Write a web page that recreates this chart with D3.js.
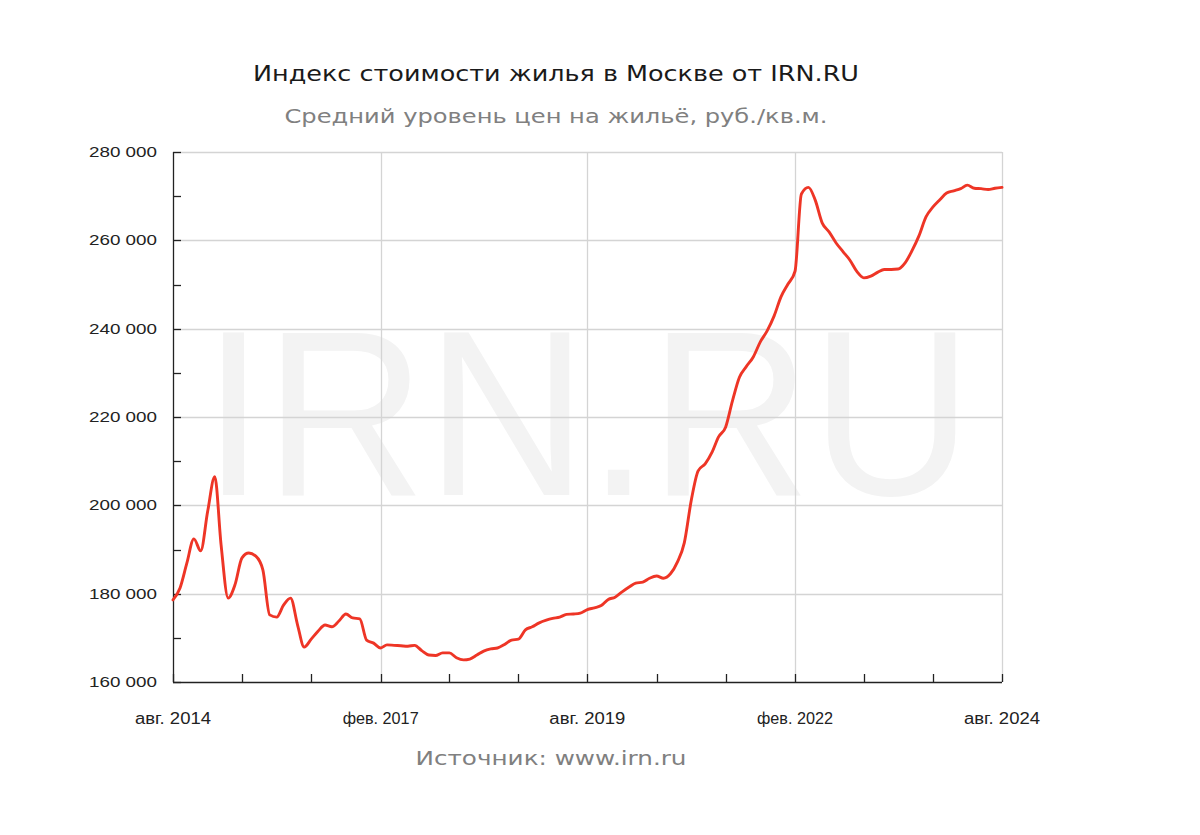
<!DOCTYPE html>
<html>
<head>
<meta charset="utf-8">
<script src="https://cdn.jsdelivr.net/npm/d3@7"></script>
<style>
  html, body { margin: 0; padding: 0; background: #fff; }
  svg { display: block; }
</style>
</head>
<body>
<svg id="chart" width="1200" height="835"></svg>
<script>
// ---- Data ----
const titleText = "Индекс стоимости жилья в Москве от IRN.RU";
const subtitleText = "Средний уровень цен на жильё, руб./кв.м.";
const sourceText = "Источник: www.irn.ru";
const watermarkText = "IRN.RU";

// monthly values, Aug 2014 .. Aug 2024
const startYear = 2014, startMonth = 7; // August (0-based)
const prices = [
  178600, 181300, 186900, 192400, 189700, 198700, 206500, 191000, 179000, 182000,
  188100, 189200, 188500, 185400, 175200, 174700, 177400, 179000, 172900, 167900,
  169700, 171500, 172900, 172500, 173800, 175400, 174500, 174300, 169500, 168800,
  167700, 168400, 168300, 168200, 168100, 168300, 167100, 166100, 166000, 166600,
  166600, 165500, 165000, 165200, 166100, 167000, 167500, 167700, 168500, 169500,
  169700, 171800, 172500, 173400, 174000, 174400, 174700, 175300, 175400, 175600,
  176400, 176800, 177300, 178700, 179200, 180400, 181500, 182400, 182600, 183500,
  184000, 183500, 184500, 187200, 191500, 201200, 207800, 209400, 212100, 215500,
  217700, 223600, 229000, 231400, 233600, 237000, 239500, 242900, 247200, 250100,
  253000, 270500, 272000, 269100, 263900, 261900, 259400, 257400, 255500, 252900,
  251500, 251900, 252800, 253400, 253400, 253500, 254900, 257600, 261000, 265300,
  267500, 269200, 270700, 271200, 271700, 272500, 271800, 271700, 271500, 271800,
  272000
];

const xTickMonths = [0, 10, 20, 30, 40, 50, 60, 70, 80, 90, 100, 110, 120];
const xLabelMonths = [0, 30, 60, 90, 120];
const xLabels = ["авг. 2014", "фев. 2017", "авг. 2019", "фев. 2022", "авг. 2024"];

const yMinorTicks = [170000, 190000, 210000, 230000, 250000, 270000];
const yMajorTicks = [160000, 180000, 200000, 220000, 240000, 260000, 280000];
const yLabels = ["160 000", "180 000", "200 000", "220 000", "240 000", "260 000", "280 000"];

// ---- Layout ----
const L = 173, R = 1002, T = 152, B = 682;
const svg = d3.select("#chart");
const monthDate = i => new Date(startYear, startMonth + i, 1);

const x = d3.scaleTime()
  .domain([monthDate(0), monthDate(120)])
  .range([L, R]);
const y = d3.scaleLinear()
  .domain([160000, 280000])
  .range([B, T]);

// Title texts
svg.append("text")
  .attr("x", 556).attr("y", 81)
  .attr("text-anchor", "middle")
  .attr("font-family", "DejaVu Sans, Verdana, sans-serif")
  .attr("font-size", 21)
  .attr("fill", "#1a1a1a")
  .attr("textLength", 606).attr("lengthAdjust", "spacingAndGlyphs")
  .text(titleText);

svg.append("text")
  .attr("x", 556).attr("y", 123)
  .attr("text-anchor", "middle")
  .attr("font-family", "DejaVu Sans, Verdana, sans-serif")
  .attr("font-size", 19)
  .attr("fill", "#808080")
  .attr("textLength", 543).attr("lengthAdjust", "spacingAndGlyphs")
  .text(subtitleText);

// Watermark
svg.append("text")
  .attr("x", (L + R) / 2).attr("y", 495)
  .attr("text-anchor", "middle")
  .attr("font-family", "Liberation Sans, Arial, sans-serif")
  .attr("font-size", 236)
  .attr("fill", "#f3f3f3")
  .attr("textLength", 770).attr("lengthAdjust", "spacingAndGlyphs")
  .text(watermarkText);

// Grid lines
const grid = svg.append("g").attr("stroke", "#d4d4d4").attr("stroke-width", 1.3);
grid.selectAll("line.h")
  .data(yMajorTicks.slice(1))
  .join("line")
  .attr("x1", L).attr("x2", R)
  .attr("y1", d => Math.round(y(d)) + 0.5)
  .attr("y2", d => Math.round(y(d)) + 0.5);
grid.selectAll("line.v")
  .data(xLabelMonths.slice(1))
  .join("line")
  .attr("y1", T).attr("y2", B)
  .attr("x1", d => Math.round(x(monthDate(d))) + 0.5)
  .attr("x2", d => Math.round(x(monthDate(d))) + 0.5);

// Axes
const axisG = svg.append("g").attr("stroke", "#222").attr("stroke-width", 1.3);
axisG.append("line").attr("x1", L + 0.5).attr("x2", L + 0.5).attr("y1", T).attr("y2", B + 0.5);
axisG.append("line").attr("x1", L).attr("x2", R).attr("y1", B + 0.5).attr("y2", B + 0.5);

// y ticks (inward)
axisG.selectAll("line.yt")
  .data(yMajorTicks.concat(yMinorTicks))
  .join("line")
  .attr("x1", L).attr("x2", L + 8)
  .attr("y1", d => Math.round(y(d)) + 0.5)
  .attr("y2", d => Math.round(y(d)) + 0.5);

// x ticks (inward)
axisG.selectAll("line.xt")
  .data(xTickMonths)
  .join("line")
  .attr("y1", B).attr("y2", B - 8)
  .attr("x1", d => Math.round(x(monthDate(d))) + 0.5)
  .attr("x2", d => Math.round(x(monthDate(d))) + 0.5);

// y labels
svg.append("g")
  .selectAll("text")
  .data(yMajorTicks)
  .join("text")
  .attr("x", 157)
  .attr("y", d => y(d) + 5)
  .attr("text-anchor", "end")
  .attr("font-family", "Liberation Sans, Arial, sans-serif")
  .attr("font-size", 15)
  .attr("fill", "#222")
  .attr("textLength", 68).attr("lengthAdjust", "spacingAndGlyphs")
  .text((d, i) => yLabels[i]);

// x labels
svg.append("g")
  .selectAll("text")
  .data(xLabelMonths)
  .join("text")
  .attr("x", d => x(monthDate(d)))
  .attr("y", 724)
  .attr("text-anchor", "middle")
  .attr("font-family", "Liberation Sans Narrow, Liberation Sans, Arial, sans-serif")
  .attr("font-size", 16)
  .attr("fill", "#222")
  .attr("textLength", 76).attr("lengthAdjust", "spacingAndGlyphs")
  .text((d, i) => xLabels[i]);

// Source
svg.append("text")
  .attr("x", 551).attr("y", 765)
  .attr("text-anchor", "middle")
  .attr("font-family", "DejaVu Sans, Verdana, sans-serif")
  .attr("font-size", 19)
  .attr("fill", "#808080")
  .attr("textLength", 271).attr("lengthAdjust", "spacingAndGlyphs")
  .text(sourceText);

// Line
const line = d3.line()
  .x((d, i) => x(monthDate(i)))
  .y(d => y(d))
  .curve(d3.curveMonotoneX);

svg.append("path")
  .datum(prices)
  .attr("d", line)
  .attr("fill", "none")
  .attr("stroke", "#ee3526")
  .attr("stroke-width", 2.9)
  .attr("stroke-linejoin", "round")
  .attr("stroke-linecap", "round");
</script>
</body>
</html>
